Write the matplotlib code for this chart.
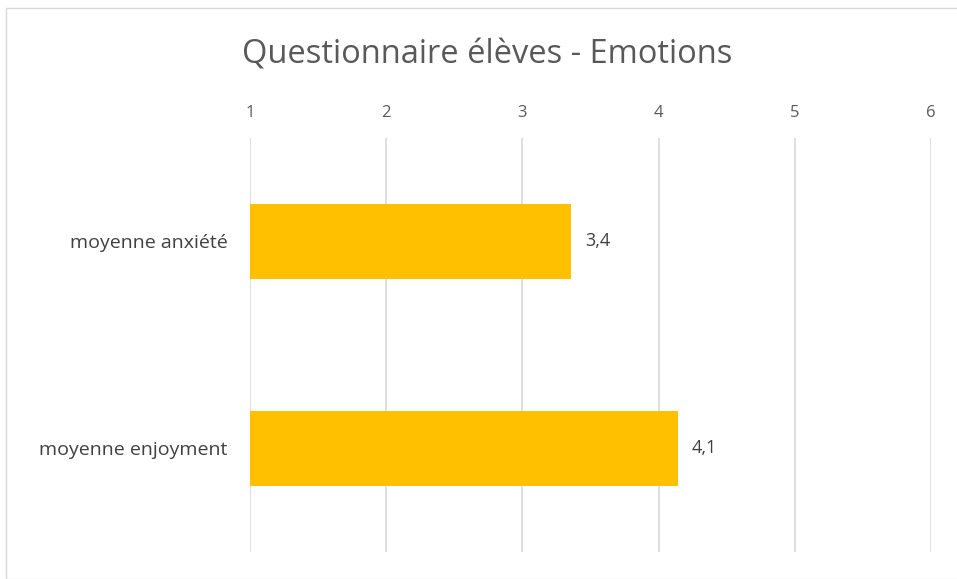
import matplotlib.pyplot as plt
from matplotlib.patches import Rectangle

# data
categories = ['moyenne anxiété', 'moyenne enjoyment']
values = [3.36, 4.14]
value_labels = ['3,4', '4,1']
x_ticks = [1, 2, 3, 4, 5, 6]

BAR_COLOR = '#FFC000'
TEXT_COLOR = '#595959'
GRID_COLOR = '#D9D9D9'

plt.rcParams['font.family'] = ['Open Sans', 'DejaVu Sans']

fig = plt.figure(figsize=(9.57, 5.79), dpi=100)
W, H = 957, 579
ax = fig.add_axes([250 / W, 1 - 552 / H, (931 - 250) / W, (552 - 138) / H])

# bars start at the axis minimum (1)
y_pos = [0.5, 1.5]
widths = [v - 1 for v in values]
ax.barh(y_pos, widths, left=1, height=0.367, color=BAR_COLOR, zorder=3)

for y, v, lab in zip(y_pos, values, value_labels):
    ax.text(v + 0.1, y, lab, va='center', ha='left', fontsize=13, color='#404040')

ax.set_xlim(1, 6)
ax.set_ylim(2, 0)
ax.set_xticks(x_ticks)
ax.set_xticklabels([str(t) for t in x_ticks])
ax.set_yticks(y_pos)
ax.set_yticklabels(categories)
ax.xaxis.tick_top()
ax.tick_params(axis='x', length=0, pad=12, labelsize=12, labelcolor=TEXT_COLOR)
ax.tick_params(axis='y', length=0, pad=16, labelsize=14, labelcolor='#404040')
ax.grid(axis='x', color=GRID_COLOR, linewidth=1.2, zorder=0)
for s in ax.spines.values():
    s.set_visible(False)

fig.text(487 / W, 1 - 55 / H, 'Questionnaire élèves - Emotions', ha='center', va='center',
         fontsize=23.5, color=TEXT_COLOR)

# faint chart border
fig.patches.append(Rectangle((6 / W, 0), 1, 1 - 8 / H, transform=fig.transFigure,
                             fill=False, edgecolor='#D9D9D9', linewidth=1))

fig.savefig('out.png', dpi=100)
